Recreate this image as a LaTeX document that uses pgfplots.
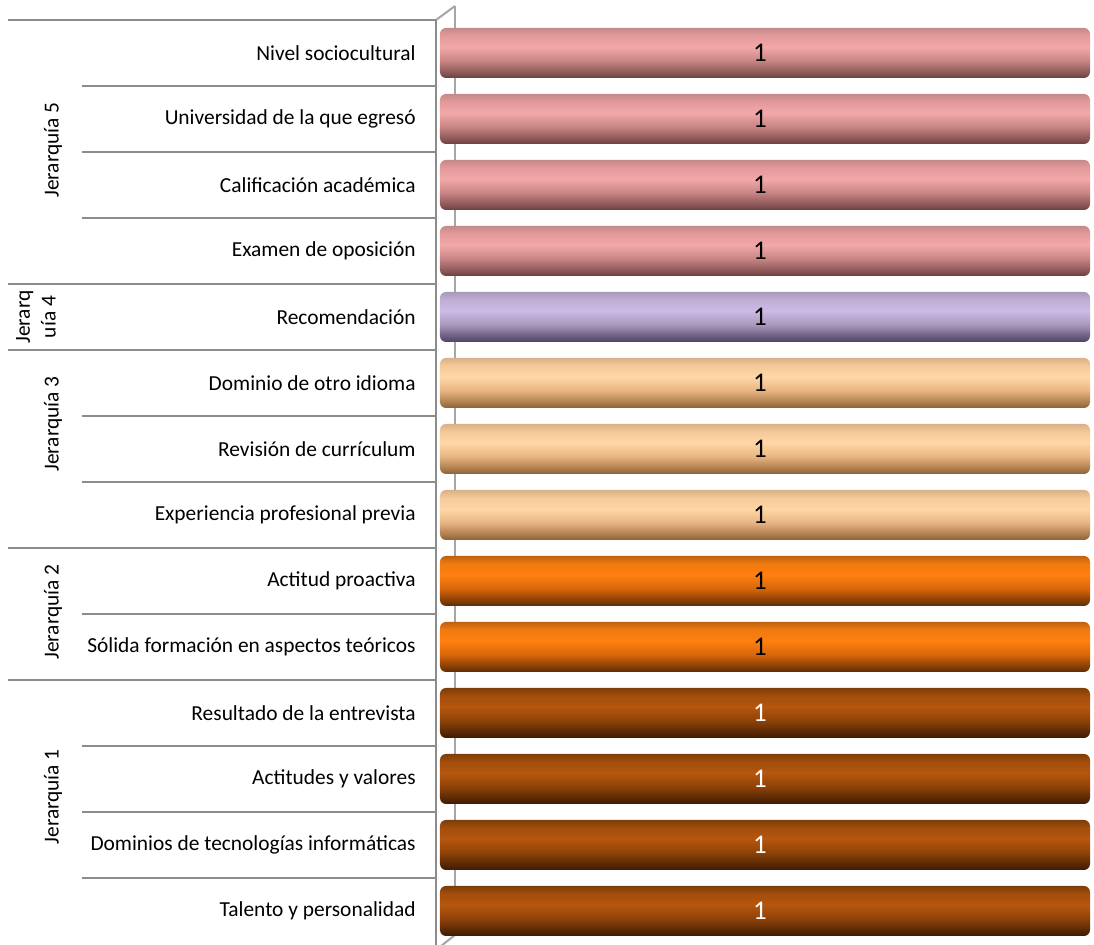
\documentclass[border=0pt]{standalone}
\usepackage{fontspec}
\setmainfont{Carlito}
\usepackage{pgfplots}
\pgfplotsset{compat=1.18}

\pgfdeclareverticalshading{cylpink}{100bp}{rgb(0bp)=(0.42,0.25,0.25); rgb(25bp)=(0.42,0.25,0.25); rgb(31bp)=(0.56,0.35,0.35); rgb(42.5bp)=(0.79,0.52,0.52); rgb(56bp)=(0.95,0.66,0.66); rgb(67.5bp)=(0.89,0.60,0.60); rgb(75bp)=(0.77,0.54,0.54); rgb(100bp)=(0.77,0.54,0.54)}
\pgfdeclareverticalshading{cyllav}{100bp}{rgb(0bp)=(0.31,0.26,0.38); rgb(25bp)=(0.31,0.26,0.38); rgb(31bp)=(0.43,0.37,0.51); rgb(42.5bp)=(0.66,0.60,0.74); rgb(56bp)=(0.80,0.73,0.89); rgb(67.5bp)=(0.75,0.68,0.84); rgb(75bp)=(0.66,0.60,0.72); rgb(100bp)=(0.66,0.60,0.72)}
\pgfdeclareverticalshading{cylpeach}{100bp}{rgb(0bp)=(0.54,0.38,0.22); rgb(25bp)=(0.54,0.38,0.22); rgb(31bp)=(0.69,0.50,0.31); rgb(42.5bp)=(0.91,0.71,0.51); rgb(56bp)=(1.0,0.84,0.65); rgb(67.5bp)=(0.96,0.79,0.60); rgb(75bp)=(0.85,0.69,0.53); rgb(100bp)=(0.85,0.69,0.53)}
\pgfdeclareverticalshading{cylorange}{100bp}{rgb(0bp)=(0.37,0.17,0.01); rgb(25bp)=(0.37,0.17,0.01); rgb(31bp)=(0.54,0.25,0.02); rgb(42.5bp)=(0.85,0.40,0.04); rgb(56bp)=(1.0,0.50,0.06); rgb(67.5bp)=(0.94,0.48,0.06); rgb(75bp)=(0.75,0.38,0.06); rgb(100bp)=(0.75,0.38,0.06)}
\pgfdeclareverticalshading{cylbrown}{100bp}{rgb(0bp)=(0.24,0.10,0.01); rgb(25bp)=(0.24,0.10,0.01); rgb(31bp)=(0.35,0.16,0.02); rgb(42.5bp)=(0.56,0.26,0.03); rgb(56bp)=(0.71,0.34,0.05); rgb(67.5bp)=(0.64,0.30,0.05); rgb(75bp)=(0.49,0.24,0.03); rgb(100bp)=(0.49,0.24,0.03)}

\definecolor{gridgray}{HTML}{8C8C8C}
\definecolor{wallgray}{HTML}{A6A6A6}

\pgfplotsset{
  cylbar/.style={shade, shading=#1},
}

\begin{document}
\begin{tikzpicture}
\useasboundingbox (0,0) rectangle (547pt,-472.5pt);
\begin{axis}[
  at={(220pt,-472pt)}, anchor=south west,
  scale only axis, width=325pt, height=462pt,
  xmin=0, xmax=1, ymin=-0.5, ymax=13.5,
  clip=false,
  axis line style={draw=none},
  xtick=\empty,
  ytick={0,...,13},
  ytick style={draw=none},
  yticklabels={Talento y personalidad, Dominios de tecnologías informáticas, Actitudes y valores, Resultado de la entrevista, Sólida formación en aspectos teóricos, Actitud proactiva, Experiencia profesional previa, Revisión de currículum, Dominio de otro idioma, Recomendación, Examen de oposición, Calificación académica, Universidad de la que egresó, Nivel sociocultural},
  yticklabel style={font=\fontsize{10.7}{12.8}\selectfont, anchor=east, inner sep=0pt, xshift=-12pt},
  /pgf/number format/assume math mode=true,
  point meta=x,
  nodes near coords,
  nodes near coords style={font=\fontsize{13.5}{13.5}\selectfont, anchor=center, xshift=-165pt, /pgf/number format/assume math mode=true},
  every axis plot/.append style={xbar, bar width=25pt, bar shift=0pt, draw=none, rounded corners=3pt},
]
% back wall
\draw[wallgray, line width=1pt] ([xshift=7.5pt,yshift=7pt]axis cs:0,13.5) -- ([xshift=7.5pt,yshift=4.5pt]axis cs:0,-0.5);
\draw[wallgray, line width=1pt] ([xshift=-2pt]axis cs:0,13.5) -- ([xshift=7.5pt,yshift=7pt]axis cs:0,13.5);
\draw[wallgray, line width=1pt] ([xshift=-2pt,yshift=-3pt]axis cs:0,-0.5) -- ([xshift=7.5pt,yshift=4.5pt]axis cs:0,-0.5);
% front wall
\draw[gridgray, line width=1.2pt] ([xshift=-2pt]axis cs:0,13.5) -- ([xshift=-2pt,yshift=-3pt]axis cs:0,-0.5);
% separators
\foreach \yy in {13.5,9.5,8.5,5.5,3.5}{
  \edef\tmp{\noexpand\draw[gridgray, line width=1pt] ([xshift=-216pt]axis cs:0,\yy) -- ([xshift=-2pt]axis cs:0,\yy);}\tmp
}
\foreach \yy in {12.5,11.5,10.5,7.5,6.5,4.5,2.5,1.5,0.5}{
  \edef\tmp{\noexpand\draw[gridgray, line width=1pt] ([xshift=-179pt]axis cs:0,\yy) -- ([xshift=-2pt]axis cs:0,\yy);}\tmp
}
% bars: Jerarquía 1
\addplot[cylbar=cylbrown, nodes near coords style={text=white}] coordinates {(1,0)};
\addplot[cylbar=cylbrown, nodes near coords style={text=white}] coordinates {(1,1)};
\addplot[cylbar=cylbrown, nodes near coords style={text=white}] coordinates {(1,2)};
\addplot[cylbar=cylbrown, nodes near coords style={text=white}] coordinates {(1,3)};
% Jerarquía 2
\addplot[cylbar=cylorange, nodes near coords style={text=black}] coordinates {(1,4)};
\addplot[cylbar=cylorange, nodes near coords style={text=black}] coordinates {(1,5)};
% Jerarquía 3
\addplot[cylbar=cylpeach, nodes near coords style={text=black}] coordinates {(1,6)};
\addplot[cylbar=cylpeach, nodes near coords style={text=black}] coordinates {(1,7)};
\addplot[cylbar=cylpeach, nodes near coords style={text=black}] coordinates {(1,8)};
% Jerarquía 4
\addplot[cylbar=cyllav, nodes near coords style={text=black}] coordinates {(1,9)};
% Jerarquía 5
\addplot[cylbar=cylpink, nodes near coords style={text=black}] coordinates {(1,10)};
\addplot[cylbar=cylpink, nodes near coords style={text=black}] coordinates {(1,11)};
\addplot[cylbar=cylpink, nodes near coords style={text=black}] coordinates {(1,12)};
\addplot[cylbar=cylpink, nodes near coords style={text=black}] coordinates {(1,13)};
% group labels
\node[rotate=90, font=\fontsize{10.7}{12.8}\selectfont] at ([xshift=-193.5pt]axis cs:0,11.53) {Jerarquía 5};
\node[rotate=90, font=\fontsize{10.7}{12.8}\selectfont, align=center] at ([xshift=-202pt]axis cs:0,9) {Jerarq\\uía 4};
\node[rotate=90, font=\fontsize{10.7}{12.8}\selectfont] at ([xshift=-193.5pt]axis cs:0,7.38) {Jerarquía 3};
\node[rotate=90, font=\fontsize{10.7}{12.8}\selectfont] at ([xshift=-193.5pt]axis cs:0,4.53) {Jerarquía 2};
\node[rotate=90, font=\fontsize{10.7}{12.8}\selectfont] at ([xshift=-193.5pt]axis cs:0,1.73) {Jerarquía 1};
\end{axis}
\end{tikzpicture}
\end{document}
